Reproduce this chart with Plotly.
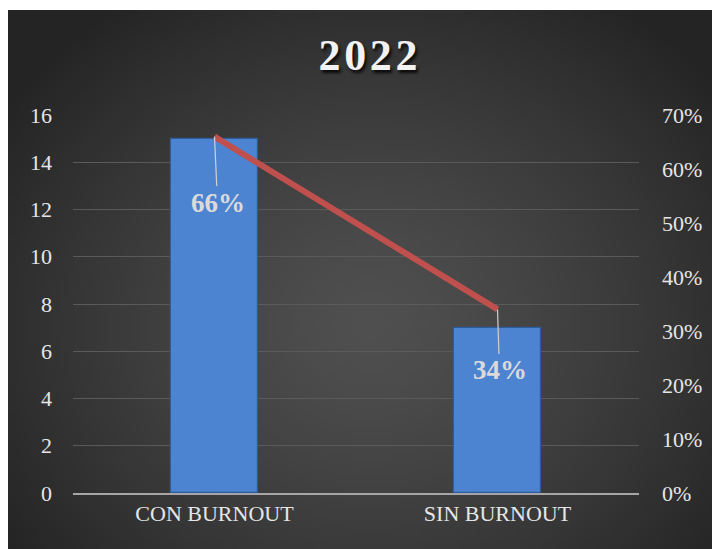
import base64, struct, zlib
import numpy as np
import plotly.graph_objects as go

categories = ["CON BURNOUT", "SIN BURNOUT"]
counts = [15, 7]
shares = [0.66, 0.34]
share_labels = ["66%", "34%"]
title_text = "2\u200a0\u200a2\u200a2"

# ---- radial gradient background as a small PNG ----
W, H = 144, 108
yy, xx = np.mgrid[0:H, 0:W]
cx, cy = W * 0.5, H * 0.57
d = np.sqrt(((xx - cx) / (W * 0.62)) ** 2 + ((yy - cy) / (H * 0.72)) ** 2)
d = np.clip(d, 0, 1)
inner, outer = 80, 36
val = (inner + (outer - inner) * d ** 1.3).astype(np.uint8)
raw = b"".join(b"\x00" + bytes(np.repeat(row, 3)) for row in val)


def chunk(tag, data):
    c = struct.pack(">I", len(data)) + tag + data
    return c + struct.pack(">I", zlib.crc32(tag + data) & 0xFFFFFFFF)


png = (b"\x89PNG\r\n\x1a\n" + chunk(b"IHDR", struct.pack(">IIBBBBB", W, H, 8, 2, 0, 0, 0))
       + chunk(b"IDAT", zlib.compress(raw)) + chunk(b"IEND", b""))
bg_uri = "data:image/png;base64," + base64.b64encode(png).decode()

serif = "Liberation Serif, DejaVu Serif, serif"

L, R, T, B = 65, 89, 107, 64
PW, PH = 720 - L - R, 549 - T - B

fig = go.Figure()
fig.add_trace(go.Bar(
    x=categories, y=counts, width=0.31,
    marker=dict(color="#4d84d2", line=dict(color="#2d5c9c", width=1.2)),
    hoverinfo="skip", showlegend=False,
))
fig.add_trace(go.Scatter(
    x=categories, y=shares, yaxis="y2", mode="lines",
    line=dict(color="#c0504d", width=6), showlegend=False, hoverinfo="skip",
))

offsets = [(3, 66), (2, 61)]
for cat, s, lab, (ax, ay) in zip(categories, shares, share_labels, offsets):
    fig.add_annotation(
        x=cat, y=s, yref="y2", text=lab, showarrow=True, arrowhead=0,
        arrowwidth=1.2, arrowcolor="#d0d0d0", ax=ax, ay=ay, standoff=0,
        font=dict(family=serif, size=27, color="#dadada", weight="bold"),
    )

fig.update_layout(
    width=720, height=549,
    paper_bgcolor="white", plot_bgcolor="rgba(0,0,0,0)",
    margin=dict(l=L, r=R, t=T, b=B),
    title=dict(text=title_text, x=0.5, xanchor="center", y=0.916, yanchor="middle",
               font=dict(family=serif, size=44, color="#f2f2f2", weight="bold",
                         shadow="2px 3px 3px rgba(0,0,0,0.8)")),
    images=[dict(source=bg_uri, xref="paper", yref="paper", x=-L / PW, y=1 + (T - 2) / PH,
                 sizex=720 / PW, sizey=(549 - 2) / PH, xanchor="left", yanchor="top",
                 sizing="stretch", layer="below")],
    xaxis=dict(showgrid=False, showline=True, linecolor="#a6a6a6", linewidth=2,
               ticks="", tickfont=dict(family=serif, size=22, color="#e6e6e6"), zeroline=False),
    yaxis=dict(range=[0, 16], dtick=2, showgrid=True, gridcolor="#5a5a5a", gridwidth=1,
               zeroline=False, showline=False, ticks="", ticklabelstandoff=20,
               tickfont=dict(family=serif, size=22, color="#e6e6e6")),
    yaxis2=dict(range=[0, 0.7], dtick=0.1, tickformat=".0%", overlaying="y", side="right",
                showgrid=False, zeroline=False, showline=False, ticks="", ticklabelstandoff=22,
                tickfont=dict(family=serif, size=22, color="#e6e6e6")),
    bargap=0,
)

fig.write_html("out.html")
